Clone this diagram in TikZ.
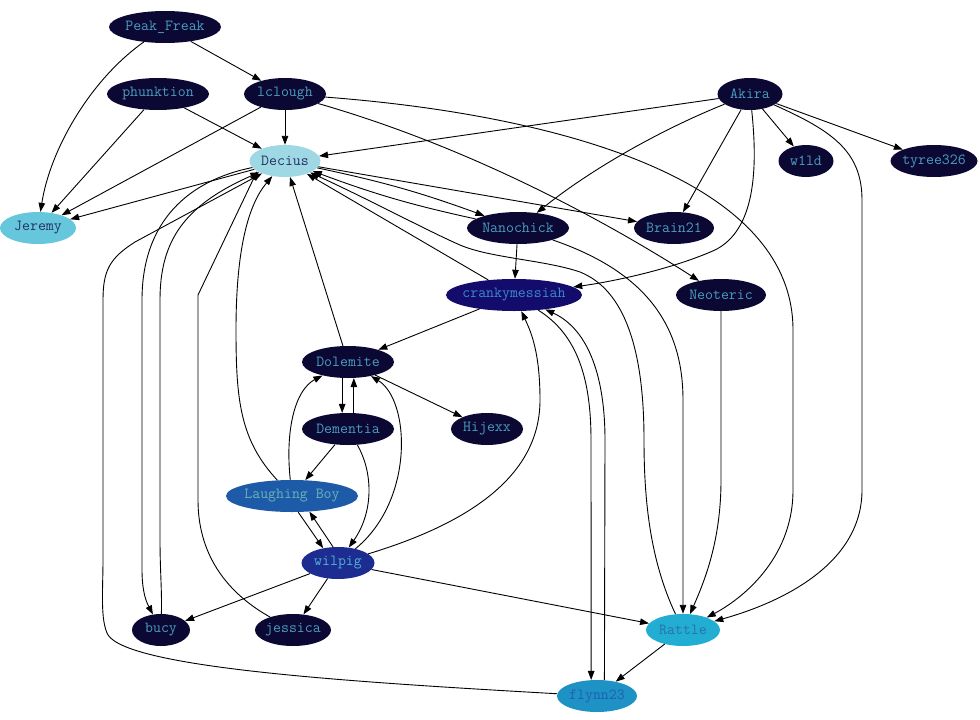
\documentclass[tikz,border=0pt]{standalone}
\usepackage{fontspec}
\usetikzlibrary{arrows.meta,shapes.geometric}
\definecolor{inkdark}{RGB}{12,8,52}
\definecolor{txtteal}{RGB}{74,158,192}
\definecolor{deciusfill}{RGB}{158,216,228}
\definecolor{deciustxt}{RGB}{36,50,96}
\definecolor{jeremyfill}{RGB}{102,198,220}
\definecolor{crankfill}{RGB}{20,12,108}
\definecolor{cranktxt}{RGB}{58,138,208}
\definecolor{boyfill}{RGB}{29,91,168}
\definecolor{boytxt}{RGB}{106,179,184}
\definecolor{pigfill}{RGB}{28,44,144}
\definecolor{pigtxt}{RGB}{82,178,216}
\definecolor{rattlefill}{RGB}{34,174,210}
\definecolor{rattletxt}{RGB}{42,110,176}
\definecolor{flynnfill}{RGB}{30,146,196}
\definecolor{flynntxt}{RGB}{31,95,176}
\newcommand{\nick}[1]{\makebox[0pt]{#1}}
\tikzset{
  user/.style={ellipse,fill=inkdark,text=txtteal,minimum height=32pt,inner sep=0pt,
    font=\ttfamily\fontsize{15.4}{16}\selectfont},
  link/.style={line width=0.9pt,-{Triangle[length=9pt,width=6.5pt]}}
}
\begin{document}
\begin{tikzpicture}[x=1pt,y=-1pt]
\useasboundingbox (0,0) rectangle (980,720);

%users
\node[user,minimum width=112pt] (peak) at (165,27) {\nick{Peak\_Freak}};
\node[user,minimum width=102pt] (phunk) at (158,94) {\nick{phunktion}};
\node[user,minimum width=82pt] (lclough) at (285,94) {\nick{lclough}};
\node[user,minimum width=65pt] (akira) at (750,94) {\nick{Akira}};
\node[user,minimum width=71pt,fill=deciusfill,text=deciustxt] (decius) at (285,161) {\nick{Decius}};
\node[user,minimum width=76pt,fill=jeremyfill,text=deciustxt] (jeremy) at (38,228) {\nick{Jeremy}};
\node[user,minimum width=55pt] (wild) at (806,161) {\nick{w1ld}};
\node[user,minimum width=87pt] (tyree) at (934,161) {\nick{tyree326}};
\node[user,minimum width=102pt] (nano) at (518,228) {\nick{Nanochick}};
\node[user,minimum width=80pt] (brain) at (674,228) {\nick{Brain21}};
\node[user,minimum width=136pt,fill=crankfill,text=cranktxt] (cranky) at (514,295) {\nick{crankymessiah}};
\node[user,minimum width=90pt] (neo) at (721,295) {\nick{Neoteric}};
\node[user,minimum width=92pt] (dole) at (348,362) {\nick{Dolemite}};
\node[user,minimum width=92pt] (dement) at (348,429) {\nick{Dementia}};
\node[user,minimum width=72pt] (hijexx) at (487,429) {\nick{Hijexx}};
\node[user,minimum width=132pt,fill=boyfill,text=boytxt] (boy) at (292,496) {\nick{Laughing Boy}};
\node[user,minimum width=73pt,fill=pigfill,text=pigtxt] (wilpig) at (338,563) {\nick{wilpig}};
\node[user,minimum width=58pt] (bucy) at (161,630) {\nick{bucy}};
\node[user,minimum width=76pt] (jessica) at (293,630) {\nick{jessica}};
\node[user,minimum width=74pt,fill=rattlefill,text=rattletxt] (rattle) at (683,630) {\nick{Rattle}};
\node[user,minimum width=80pt,fill=flynnfill,text=flynntxt] (flynn) at (597,696) {\nick{flynn23}};

%straight links
\draw[link] (peak) -- (lclough);
\draw[link] (phunk) -- (jeremy);
\draw[link] (phunk) -- (decius);
\draw[link] (lclough) -- (decius);
\draw[link] (lclough) -- (jeremy);
\draw[link] (akira) -- (decius);
\draw[link] (akira) -- (brain);
\draw[link] (akira) -- (wild);
\draw[link] (akira) -- (tyree);
\draw[link] (decius) -- (jeremy);
\draw[link] (decius) -- (brain);
\draw[link] (cranky) -- (decius);
\draw[link] (nano) -- (cranky);
\draw[link] (cranky) -- (dole);
\draw[link] (dole) -- (decius);
\draw[link] (dole) -- (hijexx);
\draw[link] (dement) -- (boy);
\draw[link] (wilpig) -- (bucy);
\draw[link] (wilpig) -- (jessica);
\draw[link] (wilpig) -- (rattle);
\draw[link] (rattle) -- (flynn);

%pairs both ways
\draw[link] (decius) to[bend left=4] (nano);
\draw[link] (nano) to[bend left=4] (decius);
\draw[link] (dole.-110) -- (dement.110);
\draw[link] (dement.70) -- (dole.-70);
\draw[link] (boy.-69) -- (wilpig.135);
\draw[link] (wilpig.107) -- (boy.-42);

%curved links
\draw[link] (peak) .. controls (90,80) and (50,150) .. (jeremy);
\draw[link] (lclough) .. controls (480,150) and (620,230) .. (neo);
\draw[link] (lclough) .. controls (560,115) and (793,180) .. (793,330) -- (793,490)
  .. controls (793,560) and (740,600) .. (rattle);
\draw[link] (akira) .. controls (830,130) and (862,150) .. (862,200) -- (862,490)
  .. controls (862,560) and (790,600) .. (rattle);
\draw[link] (akira) .. controls (660,130) and (590,170) .. (nano);
\draw[link] (akira) .. controls (758,170) and (755,230) .. (715,250)
  .. controls (670,270) and (610,282) .. (cranky);
\draw[link] (nano) .. controls (640,270) and (683,320) .. (683,400) -- (rattle);
\draw[link] (rattle) .. controls (650,560) and (644,500) .. (644,440)
  .. controls (644,350) and (625,290) .. (580,272) .. controls (545,260) and (490,258) .. (460,245)
  .. controls (430,232) and (370,200) .. (decius);
\draw[link] (neo) -- (721,480) .. controls (721,540) and (705,580) .. (rattle);
\draw[link] (cranky) .. controls (578,335) and (591,380) .. (591,440) -- (flynn.110);
\draw[link] (flynn.65) -- (605,440) .. controls (605,380) and (590,330) .. (cranky);
\draw[link] (dement) .. controls (372,470) and (375,510) .. (wilpig);
\draw[link] (boy) .. controls (285,430) and (295,390) .. (dole);
\draw[link] (boy) .. controls (240,440) and (236,400) .. (236,330) .. controls (236,250) and (248,205) .. (decius);
\draw[link] (wilpig) .. controls (415,500) and (410,400) .. (dole);
\draw[link] (wilpig) .. controls (480,520) and (540,470) .. (540,400) .. controls (540,350) and (530,330) .. (cranky);
\draw[link] (decius) .. controls (190,180) and (142,220) .. (142,300) -- (142,570)
  .. controls (142,595) and (148,605) .. (bucy);
\draw[link] (bucy) .. controls (162,590) and (160,570) .. (160,540) -- (160,300)
  .. controls (160,240) and (185,205) .. (decius);
\draw[link] (jessica) .. controls (222,590) and (198,550) .. (198,500) -- (198,295) -- (decius.200);
\draw[link] (flynn) .. controls (350,682) and (130,668) .. (108,635) .. controls (100,620) and (103,590) .. (103,560)
  -- (103,300) .. controls (103,270) and (110,258) .. (135,242) -- (decius);
\end{tikzpicture}
\end{document}
